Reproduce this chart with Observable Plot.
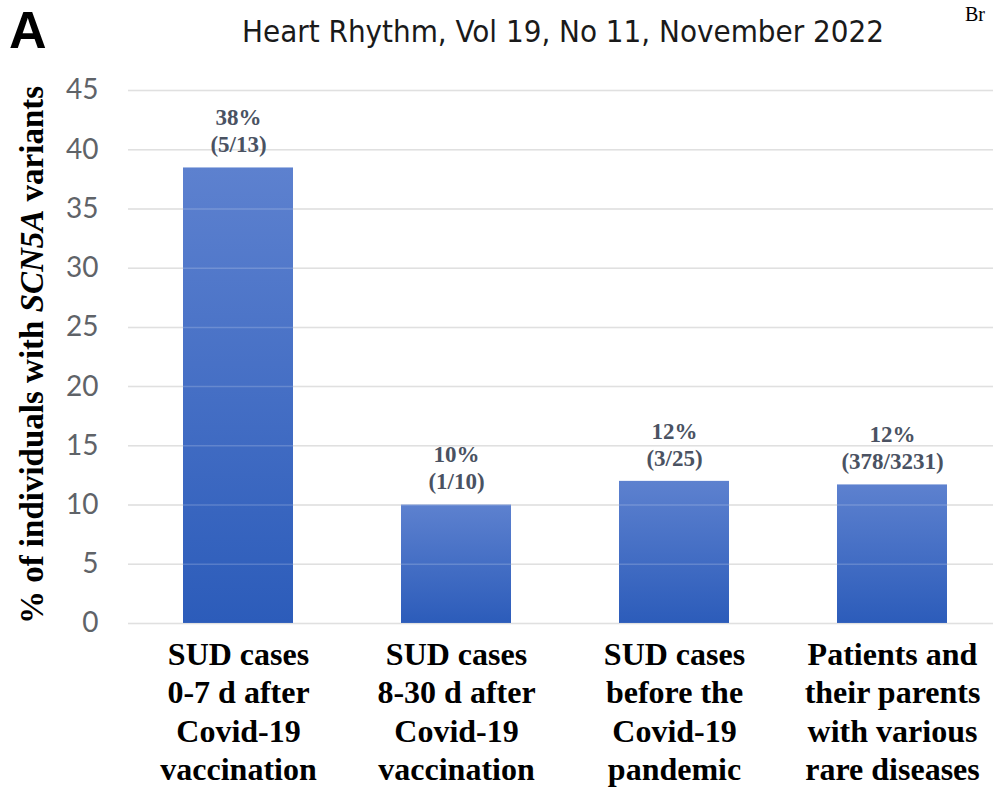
<!DOCTYPE html>
<html>
<head>
<meta charset="utf-8">
<script src="https://cdn.jsdelivr.net/npm/d3@7"></script>
<script src="https://cdn.jsdelivr.net/npm/@observablehq/plot@0.6"></script>
<style>
  html, body { margin: 0; padding: 0; background: white; }
  #fig { position: relative; width: 993px; height: 787px; overflow: hidden; background: white; }
  #plot { position: absolute; left: 0; top: 60px; z-index: 0; }
  #panel { position: absolute; z-index: 2; left: 9px; top: 4px; font: bold 52px "Liberation Sans", Arial, sans-serif; color: #000; line-height: 1; }
  #title { position: absolute; z-index: 2; left: 0; width: 1126px; top: 16px; text-align: center; font: 31px "DejaVu Sans Condensed", "DejaVu Sans", sans-serif; color: #1a1a1a; line-height: 1; }
  #corner { position: absolute; z-index: 2; right: 8px; top: 3px; font: 20px "Liberation Serif", serif; color: #000; line-height: 1.1; }
  #ylabel { position: absolute; z-index: 2; left: 32px; top: 355px; transform: translate(-50%, -50%) rotate(-90deg); white-space: nowrap; font: bold 33px "Liberation Serif", "Times New Roman", serif; color: #000; line-height: 1; }
</style>
</head>
<body>
<div id="fig">
  <div id="plot"></div>
  <div id="panel">A</div>
  <div id="title">Heart Rhythm, Vol 19, No 11, November 2022</div>
  <div id="corner">Br</div>
  <div id="ylabel">% of individuals with <i>SCN5A</i> variants</div>
</div>
<script>
const categories = [
  "SUD cases\n0-7 d after\nCovid-19\nvaccination",
  "SUD cases\n8-30 d after\nCovid-19\nvaccination",
  "SUD cases\nbefore the\nCovid-19\npandemic",
  "Patients and\ntheir parents\nwith various\nrare diseases"
];
const percents = [38.46, 10, 12, 11.7];
const pctLabels = ["38%", "10%", "12%", "12%"];
const ratioLabels = ["(5/13)", "(1/10)", "(3/25)", "(378/3231)"];
const yTicks = [0, 5, 10, 15, 20, 25, 30, 35, 40, 45];

const rows = categories.map((c, i) => ({cat: c, value: percents[i], pct: pctLabels[i], ratio: ratioLabels[i]}));

const gradientDefs = () => {
  const defs = d3.create("svg:defs");
  const g = defs.append("linearGradient").attr("id", "barGrad").attr("x1", 0).attr("y1", 0).attr("x2", 0).attr("y2", 1);
  g.append("stop").attr("offset", "0%").attr("stop-color", "#5d81cf");
  g.append("stop").attr("offset", "100%").attr("stop-color", "#2c5cba");
  return defs.node();
};

const chart = Plot.plot({
  width: 993,
  height: 727,
  marginTop: 30,
  marginBottom: 164,
  marginLeft: 128,
  marginRight: 0,
  style: {background: "white", overflow: "hidden"},
  x: {domain: categories, range: [128, 1002.5], paddingInner: 0.495, paddingOuter: 0.25, axis: null},
  y: {domain: [0, 45], axis: null},
  marks: [
    gradientDefs,
    Plot.ruleY(yTicks, {stroke: "#d9d9d9", strokeWidth: 1.5}),
    Plot.barY(rows, {x: "cat", y: "value", fill: "url(#barGrad)"}),
    Plot.ruleY(yTicks, {stroke: "#ffffff", strokeOpacity: 0.18, strokeWidth: 1.5}),
    Plot.axisY({ticks: yTicks, tickSize: 0, tickPadding: 30, fontSize: 28, fill: "#5f6368", fontFamily: "Lato, 'Open Sans', sans-serif", label: null}),
    Plot.text(rows, {x: "cat", y: "value", text: "pct", dy: -50, lineAnchor: "middle", fontSize: 23, fontWeight: "bold", fontFamily: "'Liberation Serif', serif", fill: "#4a5262"}),
    Plot.text(rows, {x: "cat", y: "value", text: "ratio", dy: -23, lineAnchor: "middle", fontSize: 23, fontWeight: "bold", fontFamily: "'Liberation Serif', serif", fill: "#4a5262"}),
    Plot.text(rows, {x: "cat", text: "cat", frameAnchor: "bottom", lineAnchor: "top", dy: 14, fontSize: 32, lineHeight: 1.2, fontWeight: "bold", fontFamily: "'Liberation Serif', serif", fill: "#000"})
  ]
});
document.getElementById("plot").appendChild(chart);
</script>
</body>
</html>
